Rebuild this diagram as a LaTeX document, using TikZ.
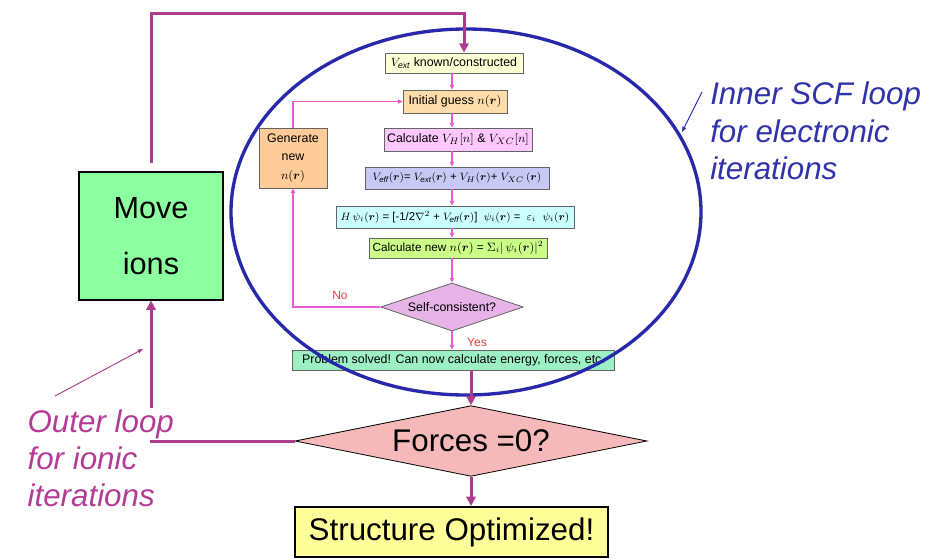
\documentclass[tikz,border=0pt]{standalone}
\usepackage{amsmath}
\usepackage{fontspec}
\setmainfont{Liberation Sans}
\usetikzlibrary{shapes.geometric,arrows.meta}
\definecolor{outmag}{RGB}{172,60,140}
\definecolor{labmag}{RGB}{180,60,150}
\definecolor{scfblue}{RGB}{40,40,170}
\definecolor{labblue}{RGB}{50,50,170}
\definecolor{inpink}{RGB}{230,90,210}
\definecolor{inred}{RGB}{230,60,60}
\definecolor{inborder}{RGB}{100,100,100}
\definecolor{moveg}{RGB}{140,255,160}
\definecolor{forcep}{RGB}{245,185,185}
\definecolor{structy}{RGB}{255,255,153}
\definecolor{vextc}{RGB}{255,255,213}
\definecolor{initc}{RGB}{255,221,170}
\definecolor{calcc}{RGB}{255,200,255}
\definecolor{veffc}{RGB}{200,200,245}
\definecolor{hpsic}{RGB}{204,255,255}
\definecolor{newnc}{RGB}{204,255,136}
\definecolor{selfc}{RGB}{230,180,230}
\definecolor{probc}{RGB}{156,240,196}
\definecolor{genc}{RGB}{255,204,153}
\newcommand{\rv}{\boldsymbol{r}}
\tikzset{
  inbox/.style={draw=inborder, line width=0.6pt, inner sep=0pt, font=\fontsize{9.3}{11}\selectfont},
  smallfont/.style={font=\fontsize{8.5}{10}\selectfont},
  inarr/.style={draw=inpink, line width=0.9pt, -{Triangle[length=3.5pt,width=3.2pt]}},
  outarr/.style={draw=outmag, line width=2.25pt, -{Triangle[length=7pt,width=7pt]}},
  noteblue/.style={draw=labblue, line width=0.7pt, -{Triangle[length=4pt,width=3pt]}},
  notemag/.style={draw=outmag, line width=0.7pt, -{Triangle[length=4pt,width=3pt]}},
  bigtext/.style={font=\fontsize{23.5}{28}\selectfont\itshape},
  inlabel/.style={text=inred, font=\fontsize{9}{10}\selectfont, inner sep=0pt}
}
\begin{document}
\begin{tikzpicture}[x=0.75pt,y=-0.75pt]
\useasboundingbox (0,0) rectangle (942,558);
\fill[white] (0,0) rectangle (942,558);

% inner flowchart
\node[inbox, fill=vextc, minimum width=103.5pt, minimum height=15pt] (vext) at (454,63) {$V_{\mathit{ext}}$ known/constructed};
\node[inbox, fill=initc, minimum width=78pt, minimum height=17.25pt] (init) at (455,101.5) {Initial guess $n(\rv)$};
\node[inbox, fill=calcc, minimum width=111pt, minimum height=17.25pt] (calc) at (458,139.5) {Calculate $V_H[n]$ \& $V_{XC}[n]$};
\node[inbox, smallfont, fill=veffc, minimum width=138pt, minimum height=16.5pt] (veff) at (457,178) {$V_{\mathit{eff}}(\rv)$= $V_{\mathit{ext}}(\rv)$ + $V_H(\rv)$+ $V_{XC}\,(\rv)$};
\node[inbox, smallfont, fill=hpsic, minimum width=178.5pt, minimum height=16.5pt] (hpsi) at (455,217) {$H\,\psi_i(\rv)$ = [-1/2$\nabla^2$ + $V_{\mathit{eff}}(\rv)$]\ \ $\psi_i(\rv)$ = \ $\varepsilon_i$\ \ $\psi_i(\rv)$};
\node[inbox, fill=newnc, minimum width=133.5pt, minimum height=15pt, font=\fontsize{8.8}{10}\selectfont] (newn) at (458,248) {Calculate new $n(\rv)$ = $\Sigma_i|\,\psi_i(\rv)|^2$};
\node[inbox, diamond, aspect=3, fill=selfc, minimum width=107pt, minimum height=36pt] (self) at (452,307) {Self-consistent?};
\node[inbox, fill=probc, minimum width=241pt, minimum height=15pt] (prob) at (453.5,360) {Problem solved! Can now calculate energy, forces, etc.};
\node[inbox, fill=genc, minimum width=51pt, minimum height=45pt, align=center, font=\fontsize{9.3}{14}\selectfont] (gen) at (293,158) {Generate\\new\\$n(\rv)$};

\draw[inarr] (vext.south -| self) -- (init.north -| self);
\draw[inarr] (init.south -| self) -- (calc.north -| self);
\draw[inarr] (calc.south -| self) -- (veff.north -| self);
\draw[inarr] (veff.south -| self) -- (hpsi.north -| self);
\draw[inarr] (hpsi.south -| self) -- (newn.north -| self);
\draw[inarr] (newn.south -| self) -- (self.north);
\draw[inarr] (self.south) -- (self.south |- prob.north);
\draw[inarr] (self.west) -| (gen.south);
\draw[inarr] (gen.north) |- (init.west);
\node[inlabel] (nolab) at (340,295) {No};
\node[inlabel] (yeslab) at (477,342) {Yes};

% SCF ellipse
\node[ellipse, draw=scfblue, line width=2.5pt, minimum width=352.5pt, minimum height=274.5pt] (scf) at (466,212) {};

% outer loop
\node[draw=black, line width=0.8pt, fill=moveg, minimum width=108pt, minimum height=96pt, align=center, font=\fontsize{23}{42}\selectfont, inner sep=0pt] (move) at (151,236) {Move\\ions};
\node[diamond, aspect=4.95, draw=black, line width=0.6pt, fill=forcep, minimum width=264pt, minimum height=53pt, inner sep=0pt, font=\fontsize{23.5}{26}\selectfont] (forces) at (471,441) {Forces =0?};
\node[draw=black, line width=1.5pt, fill=structy, minimum width=235pt, minimum height=37.5pt, inner sep=0pt, font=\fontsize{23.5}{26}\selectfont] (struct) at (451.5,532) {Structure Optimized!};

\coordinate (tr) at (464,13);
\draw[outarr, shorten <=6pt] (move.north) |- (tr) -- (tr |- vext.north);
\draw[outarr] (prob.south -| forces.north) -- (forces.north);
\draw[outarr] (forces.south) -- (forces.south |- struct.north);
\draw[outarr] (forces.west) -| (move.south);

% labels
\node[bigtext, text=labblue, align=left, anchor=north west, inner sep=0pt] (scflab) at (710,82) {Inner SCF loop\\for electronic\\iterations};
\coordinate (scfa) at (702,92);
\coordinate (scfb) at (682,132);
\draw[noteblue] (scfa) -- (scfb);

\node[bigtext, text=labmag, fill=white, anchor=base west, inner sep=1pt] (olab1) at (26,432) {Outer loop};
\node[bigtext, text=labmag, anchor=base west, inner sep=1pt] (olab2) at (26,469) {for ionic};
\node[bigtext, text=labmag, anchor=base west, inner sep=1pt] (olab3) at (26,506) {iterations};
\coordinate (oa) at (55,396);
\coordinate (ob) at (143,349);
\draw[notemag] (oa) -- (ob);
\end{tikzpicture}
\end{document}
